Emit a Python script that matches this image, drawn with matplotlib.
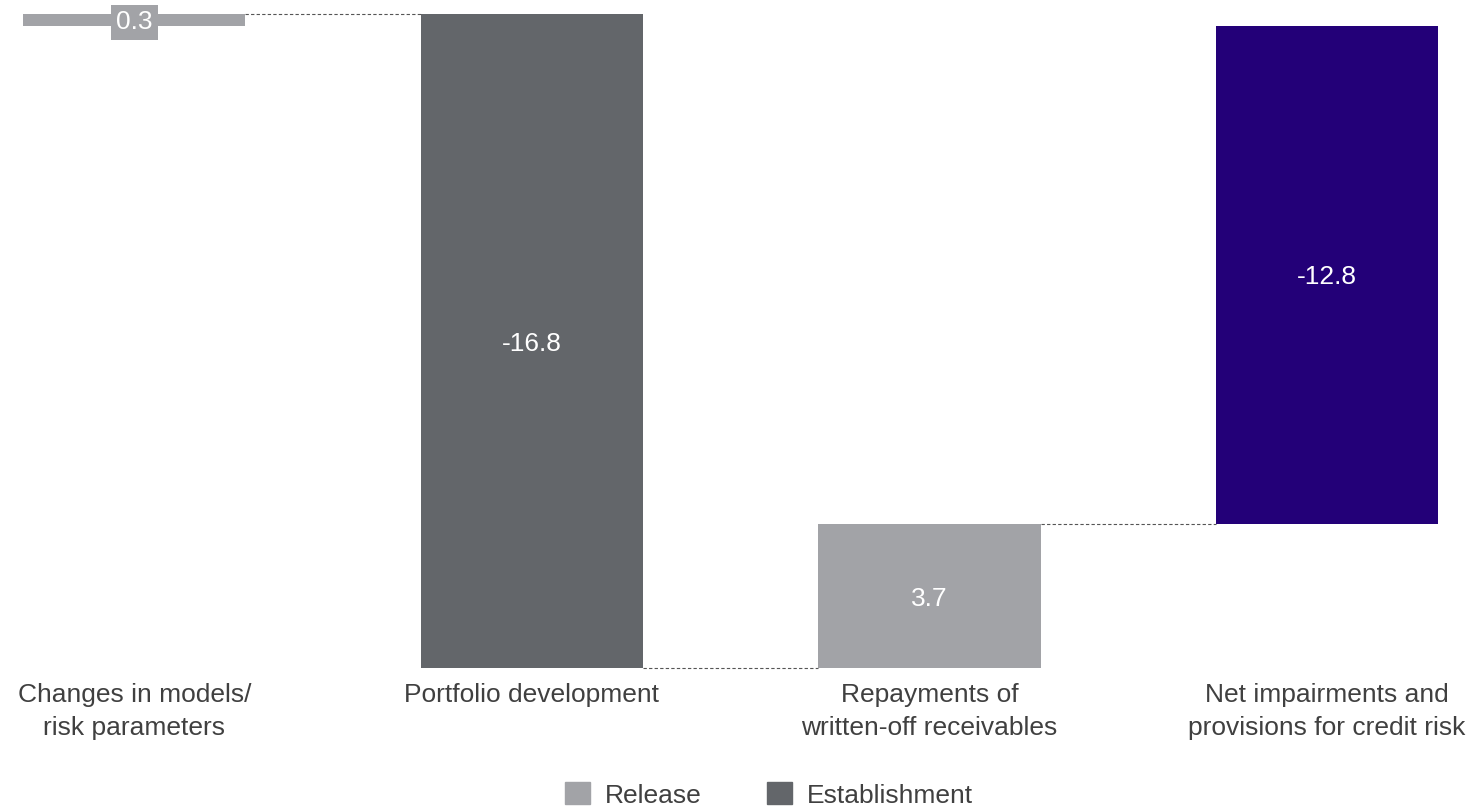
import matplotlib
matplotlib.use("Agg")
import matplotlib.pyplot as plt
from matplotlib.patches import Patch
import matplotlib.transforms as mtransforms

plt.rcParams['font.family'] = ['Liberation Sans', 'DejaVu Sans']

# Waterfall data (EUR m)
categories = ["Changes in models/\nrisk parameters",
              "Portfolio development",
              "Repayments of\nwritten-off receivables",
              "Net impairments and\nprovisions for credit risk"]
changes = [0.3, -16.8, 3.7]
total = -12.8
labels = ["0.3", "-16.8", "3.7", "-12.8"]

c_release = "#A2A3A7"
c_establish = "#63666A"
c_total = "#230078"
c_text = "#404040"

fig = plt.figure(figsize=(14.73, 8.07), dpi=100)
ax = fig.add_axes([0, 0, 1, 1])
ax.set_xlim(-0.338, 3.367)
ax.set_ylim(-20.07, 0.663)
ax.axis("off")

width = 0.5585
fs = 19

# running waterfall bars
bottoms, heights, colors = [], [], []
level = 0.0
for v in changes:
    bottoms.append(level if v >= 0 else level + v)
    heights.append(abs(v))
    colors.append(c_release if v >= 0 else c_establish)
    level += v
bottoms.append(min(0, total))
heights.append(abs(total))
colors.append(c_total)

xs = list(range(len(bottoms)))
ax.bar(xs, heights, bottom=bottoms, width=width, color=colors, linewidth=0)

# dashed connectors between consecutive bars
level = 0.0
for i, v in enumerate(changes):
    level += v
    ax.plot([i + width / 2, i + 1 - width / 2], [level, level],
            color="#555555", lw=0.8, ls=(0, (3, 2)))

# value labels
for i, (b, h, lab) in enumerate(zip(bottoms, heights, labels)):
    y = b + h / 2
    kw = {}
    if h < 1:
        kw["bbox"] = dict(boxstyle="square,pad=0.2", fc=colors[i], ec="none")
    ax.text(i, y, lab, ha="center", va="center_baseline", color="white",
            fontsize=fs, **kw)

# category labels below the bars
trans = mtransforms.blended_transform_factory(ax.transData, ax.transAxes)
for i, cat in enumerate(categories):
    ax.text(i, 1 - 683 / 807, cat, transform=trans, ha="center", va="top",
            multialignment="center", color=c_text, fontsize=fs, linespacing=1.45)

handles = [Patch(color=c_release, label="Release"),
           Patch(color=c_establish, label="Establishment")]
leg = fig.legend(handles=handles, loc="center", ncol=2,
                 bbox_to_anchor=(769 / 1473, 1 - 795 / 807),
                 frameon=False, fontsize=fs, handlelength=0.95,
                 handleheight=0.9, handletextpad=0.57, columnspacing=2.46,
                 borderpad=0, borderaxespad=0)
for t in leg.get_texts():
    t.set_color(c_text)

fig.savefig("out.png", dpi=100)
